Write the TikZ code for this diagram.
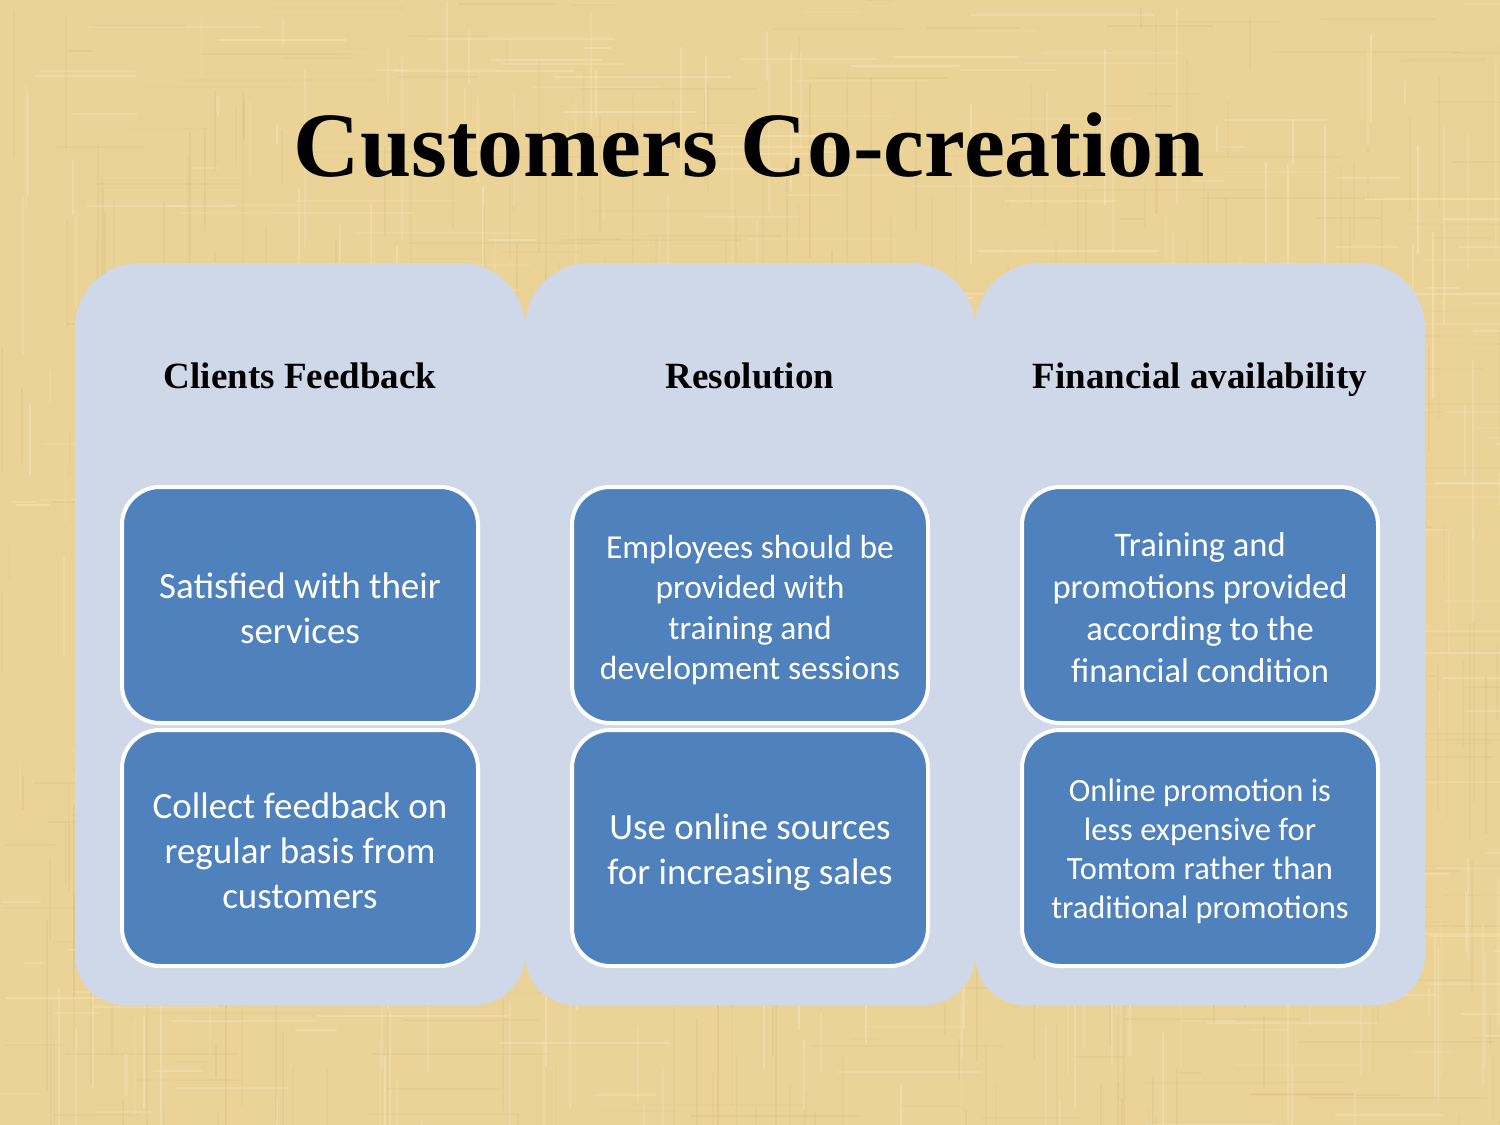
\documentclass[tikz,border=0pt]{standalone}
\usepackage{fontspec}
\setmainfont{Liberation Serif}
\newfontfamily\calfont{Carlito}
\definecolor{tanbg}{RGB}{235,211,152}
\definecolor{tandark}{RGB}{200,170,110}
\definecolor{tanlight}{RGB}{247,232,188}
\definecolor{panelcol}{RGB}{207,216,232}
\definecolor{boxblue}{RGB}{79,129,189}
\tikzset{
  panel/.style={fill=panelcol},
  boxnode/.style={draw=white, line width=4pt, fill=boxblue, rounded corners=38pt,
    minimum width=356pt, minimum height=236pt, inner sep=0pt},
  boxtext/.style={align=center, text=white, inner sep=0pt},
  header/.style={anchor=base, font=\bfseries\fontsize{37}{44}\selectfont},
  titlenode/.style={anchor=base, font=\bfseries\fontsize{92}{100}\selectfont},
  bodyA/.style={boxtext, font=\calfont\fontsize{37}{45}\selectfont},
  bodyB/.style={boxtext, font=\calfont\fontsize{33.5}{40.5}\selectfont},
  bodyC/.style={boxtext, font=\calfont\fontsize{34.5}{42}\selectfont},
  bodyD/.style={boxtext, font=\calfont\fontsize{32.5}{39}\selectfont},
}
\begin{document}
\begin{tikzpicture}[x=1pt,y=-1pt]
\useasboundingbox (0,0) rectangle (1500,1125);
\fill[tanbg] (0,0) rectangle (1500,1125);
% burlap texture
\pgfmathsetseed{11}
\foreach \i in {1,...,320}{
  \pgfmathsetmacro\xx{random(0,1500)}
  \pgfmathsetmacro\yy{random(0,1125)}
  \pgfmathsetmacro\ll{random(20,220)}
  \pgfmathsetmacro\op{0.06+0.14*rnd}
  \draw[tandark, opacity=\op, line width=2.2pt] (\xx,\yy) -- ++(0,\ll);
}
\foreach \i in {1,...,240}{
  \pgfmathsetmacro\xx{random(0,1500)}
  \pgfmathsetmacro\yy{random(0,1125)}
  \pgfmathsetmacro\ll{random(20,200)}
  \pgfmathsetmacro\op{0.06+0.12*rnd}
  \draw[tandark, opacity=\op, line width=2pt] (\xx,\yy) -- ++(\ll,0);
}
\foreach \i in {1,...,260}{
  \pgfmathsetmacro\xx{random(0,1500)}
  \pgfmathsetmacro\yy{random(0,1125)}
  \pgfmathsetmacro\ll{random(20,200)}
  \pgfmathsetmacro\op{0.15+0.3*rnd}
  \draw[tanlight, opacity=\op, line width=2.4pt] (\xx,\yy) -- ++(0,\ll);
  \pgfmathsetmacro\xb{random(0,1500)}
  \pgfmathsetmacro\yb{random(0,1125)}
  \draw[tanlight, opacity=\op, line width=2pt] (\xb,\yb) -- ++(\ll,0);
}
% title
\node[titlenode] (title) at (749,176) {Customers Co-creation};
% panels
\foreach \px in {75,525,975}{
  \fill[panel] (\px,700) [rounded corners=65pt] -- (\px,263) -- (\px+450,263)
     [rounded corners=50pt] -- (\px+450,1005) -- (\px,1005) [sharp corners] -- cycle;
}
% headers
\node[header] (h1) at (300,388) {Clients Feedback};
\node[header] (h2) at (750,388) {Resolution};
\node[header] (h3) at (1200,388) {Financial availability};
% boxes
\node[boxnode] (b11) at (300,605) {};
\node[boxnode] (b12) at (300,848) {};
\node[boxnode] (b21) at (750,605) {};
\node[boxnode] (b22) at (750,848) {};
\node[boxnode] (b31) at (1200,605) {};
\node[boxnode] (b32) at (1200,848) {};
% box texts
\node[bodyA] (t11) at ([yshift=-3pt]b11.center) {Satisfied with their\\services};
\node[bodyA] (t12) at ([yshift=-3pt]b12.center) {Collect feedback on\\regular basis from\\customers};
\node[bodyB] (t21) at ([yshift=-5pt]b21.center) {Employees should be\\provided with\\training and\\development sessions};
\node[bodyA] (t22) at ([yshift=-4pt]b22.center) {Use online sources\\for increasing sales};
\node[bodyC] (t31) at ([yshift=-3pt]b31.center) {Training and\\promotions provided\\according to the\\financial condition};
\node[bodyD] (t32) at ([yshift=-3pt]b32.center) {Online promotion is\\less expensive for\\Tomtom rather than\\traditional promotions};
\end{tikzpicture}
\end{document}
